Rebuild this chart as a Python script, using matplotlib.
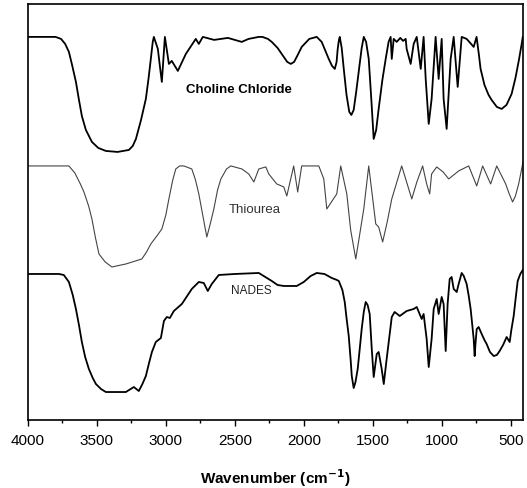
import matplotlib
matplotlib.use("Agg")
import matplotlib.pyplot as plt
from matplotlib.ticker import MultipleLocator

plt.rcParams['font.family'] = ['Liberation Sans', 'DejaVu Sans']

# Choline Chloride spectrum (wavenumber, intensity in arbitrary offset units)
cc_wn = [4000, 3800, 3760, 3730, 3703, 3680, 3652, 3630, 3609, 3580, 3536, 3490, 3435, 3350, 3268,
         3240, 3217, 3180, 3145, 3125, 3109, 3095, 3087, 3058, 3040, 3029,
         3007, 2978, 2957, 2913, 2855, 2783, 2761, 2732, 2650, 2550, 2450, 2400, 2326, 2300, 2260,
         2232, 2190, 2150, 2120, 2094, 2070, 2040, 2015, 1960, 1906, 1870, 1840, 1819, 1795, 1775,
         1762, 1754, 1745, 1739, 1725, 1710, 1690, 1670, 1655, 1638, 1620, 1600, 1580, 1565, 1548,
         1529, 1510, 1493, 1475, 1457, 1430, 1406, 1385, 1370, 1362, 1348, 1326, 1300, 1280, 1261,
         1254, 1225, 1203, 1181, 1152, 1131, 1116, 1094, 1073, 1044, 1022, 1000, 986, 964, 935, 913,
         884, 855, 819, 768, 747, 730, 718, 690, 660, 638, 600, 565, 530, 493, 465, 440, 420, 412]
cc_y = [383, 383, 381, 376, 368, 355, 338, 320, 304, 290, 278, 272, 269, 268, 270,
        274, 281, 300, 321, 342, 361, 378, 383, 371, 350, 338,
        383, 356, 359, 349, 366, 381, 376, 383, 380, 382, 378, 381, 383, 383, 381,
        378, 372, 364, 358, 356, 358, 366, 373, 381, 383, 378, 368, 361, 354, 351,
        358, 371, 380, 383, 372, 351, 325, 308, 305, 310, 328, 350, 372, 383, 378,
        361, 320, 281, 290, 311, 340, 361, 378, 383, 361, 381, 378, 382, 379, 381,
        371, 356, 376, 383, 351, 383, 341, 296, 321, 383, 341, 381, 321, 291, 361, 383,
        333, 383, 381, 373, 383, 365, 351, 335, 325, 320, 313, 311, 315, 326, 342, 360, 376, 383]

# Thiourea spectrum
th_wn = [4000, 3703, 3660, 3620, 3594, 3560, 3536, 3510, 3485, 3440, 3391, 3290, 3174, 3140, 3109,
         3060, 3029, 3000, 2978, 2950, 2928, 2900, 2870, 2812, 2785, 2761, 2730, 2703, 2680, 2652,
         2625, 2601, 2560, 2529, 2449, 2399, 2362, 2326, 2275, 2254, 2196, 2145, 2123, 2073, 2044,
         2015, 1891, 1855, 1833, 1761, 1732, 1688, 1660, 1623, 1595, 1565, 1529, 1478, 1457, 1428,
         1395, 1362, 1290, 1250, 1217, 1180, 1138, 1109, 1087, 1073, 1036, 990, 949, 877, 804, 746,
         703, 645, 601, 536, 510, 486, 465, 442, 410]
th_y = [254, 254, 247, 236, 228, 214, 201, 182, 166, 158, 153, 156, 161, 168, 176,
        185, 191, 205, 221, 240, 251, 254, 254, 251, 240, 226, 203, 183, 195, 211,
        230, 241, 251, 254, 251, 246, 238, 251, 253, 246, 236, 233, 224, 254, 228,
        254, 254, 241, 211, 226, 254, 226, 190, 161, 185, 211, 254, 196, 193, 178,
        198, 221, 254, 236, 221, 238, 254, 236, 226, 246, 253, 248, 241, 249, 254, 234,
        254, 236, 254, 236, 226, 218, 224, 236, 258]

# NADES spectrum
na_wn = [4000, 3775, 3740, 3703, 3675, 3652, 3630, 3609, 3585, 3558, 3530, 3507, 3470, 3435, 3290,
         3232, 3196, 3170, 3145, 3120, 3101, 3073, 3036,
         3014, 2993, 2971, 2942, 2884, 2812, 2761, 2725, 2696, 2667, 2616, 2500, 2326, 2232, 2190,
         2145, 2051, 2000, 1950, 1906, 1850, 1797, 1760, 1746, 1720, 1703, 1690, 1674, 1660, 1652,
         1638, 1625, 1609, 1595, 1580, 1565, 1551, 1537, 1522, 1507, 1493, 1471,
         1457, 1435, 1420, 1399, 1362, 1341, 1304, 1254, 1203, 1181, 1145, 1131, 1109, 1094, 1073,
         1058, 1036, 1022, 1000, 986, 971, 957, 942, 928, 913, 891, 877, 855, 840, 819, 805, 790,
         768, 761, 754, 746, 732, 710, 690, 674, 650, 623, 600, 580, 555, 529, 507, 495, 478, 465,
         449, 430, 412]
na_y = [146, 146, 145, 138, 125, 111, 95, 78, 63, 51, 42, 36, 31, 28, 28,
        33, 29, 36, 44, 58, 68, 78, 82,
        99, 103, 102, 109, 116, 131, 138, 137, 129, 136, 145, 146, 147, 139, 135,
        134, 134, 138, 144, 147, 146, 142, 140, 139, 130, 118, 102, 84, 60, 44,
        32, 38, 51, 70, 91, 108, 118, 115, 106, 71, 43, 66,
        68, 51, 36, 61, 103, 108, 104, 109, 111, 113, 101, 106, 81, 53, 81,
        111, 121, 106, 123, 116, 69, 116, 141, 143, 131, 128, 136, 147, 144, 136, 125, 111,
        81, 64, 78, 91, 93, 86, 80, 76, 68, 64, 65, 69, 75, 83, 78, 90, 104, 120,
        139, 146, 150]

x_ticks = [4000, 3500, 3000, 2500, 2000, 1500, 1000, 500]
labels = ["Choline Chloride", "Thiourea", "NADES"]

fig = plt.figure(figsize=(5.27, 4.89), dpi=100)
ax = fig.add_axes([0.053, 0.139, 0.939, 0.851])

ax.plot(cc_wn, cc_y, color='black', lw=1.3, solid_joinstyle='round')
ax.plot(th_wn, th_y, color='#444444', lw=0.8, solid_joinstyle='round')
ax.plot(na_wn, na_y, color='black', lw=1.3, solid_joinstyle='round')

ax.text(2471, 331, labels[0], fontsize=9.5, fontweight='bold', ha='center', va='center')
ax.text(2355, 211, labels[1], fontsize=9.5, color='#333333', ha='center', va='center')
ax.text(2377, 130, labels[2], fontsize=8.5, color='#222222', ha='center', va='center')

ax.set_xlim(4000, 412)
ax.set_ylim(0, 416)
ax.set_xticks(x_ticks)
ax.set_xticklabels([str(t) for t in x_ticks])
ax.xaxis.set_minor_locator(MultipleLocator(250))
ax.set_yticks([])
ax.tick_params(axis='x', which='major', direction='out', length=4, width=1, labelsize=11, pad=5)
ax.tick_params(axis='x', which='minor', direction='out', length=2.5, width=1)
for s in ax.spines.values():
    s.set_linewidth(1.2)
ax.set_xlabel('Wavenumber (cm$^{\\mathbf{-1}}$)', fontsize=11, fontweight='bold', labelpad=14)

fig.savefig('out.png', dpi=100)
